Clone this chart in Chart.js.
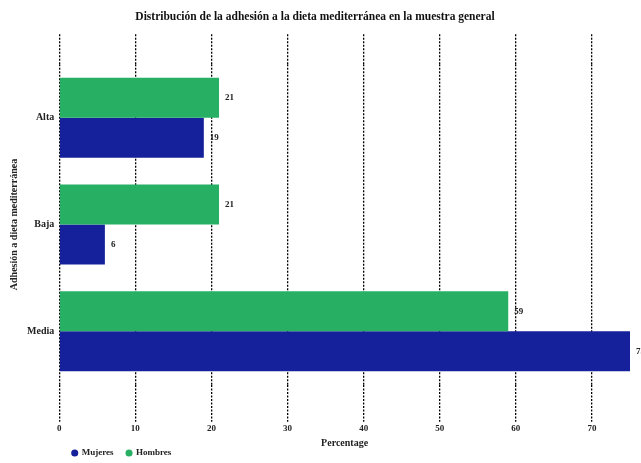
<!DOCTYPE html>
<html>
<head>
<meta charset="utf-8">
<script src="https://cdn.jsdelivr.net/npm/chart.js@4"></script>
<style>
  html, body { margin: 0; padding: 0; background: #fff; }
  #wrap { width: 641px; height: 463px; }
</style>
</head>
<body>
<div id="wrap"><canvas id="chartBar"></canvas></div>
<script>
const categories = ["Alta", "Baja", "Media"];
const mujeres = [19, 6, 75];
const hombres = [21, 21, 59];
const xTicks = [0, 10, 20, 30, 40, 50, 60, 70];

const serif = "'Liberation Serif', 'DejaVu Serif', serif";

// value labels at the end of each bar
const barLabels = {
    id: "barLabels",
    afterDatasetsDraw(chart) {
        const c = chart.ctx;
        c.save();
        c.font = "bold 9px " + serif;
        c.fillStyle = "#222";
        c.textBaseline = "middle";
        chart.data.datasets.forEach((ds, i) => {
            chart.getDatasetMeta(i).data.forEach((bar, j) => {
                c.fillText(ds.data[j], bar.x + 6, bar.y);
            });
        });
        c.restore();
    },
};

const dotted = {
    color: "#000",
    lineWidth: 1.3,
    tickColor: "#000",
    tickWidth: 1.3,
    tickBorderDash: [2, 1.5],
};

new Chart(document.getElementById("chartBar"), {
    type: "bar",
    data: {
        labels: categories,
        datasets: [
            { label: "Hombres", data: hombres, backgroundColor: "#27b064" },
            { label: "Mujeres", data: mujeres, backgroundColor: "#14219a" },
        ],
    },
    plugins: [barLabels],
    options: {
        indexAxis: "y",
        responsive: true,
        maintainAspectRatio: false,
        animation: false,
        categoryPercentage: 0.75,
        barPercentage: 1,
        layout: { padding: { right: 11, bottom: -4.5 } },
        plugins: {
            title: {
                display: true,
                text: "Distribución de la adhesión a la dieta mediterránea en la muestra general",
                color: "#111",
                font: { size: 11.5, weight: "bold", family: serif },
                padding: { top: 10, bottom: 10.5 },
            },
            legend: {
                position: "bottom",
                align: "start",
                fullSize: false,
                reverse: true,
                labels: {
                    usePointStyle: true,
                    pointStyle: "circle",
                    boxWidth: 5,
                    boxHeight: 5,
                    padding: 13,
                    color: "#222",
                    font: { size: 9, weight: "bold", family: serif },
                },
            },
            tooltip: { enabled: false },
        },
        scales: {
            x: {
                min: 0,
                max: 75,
                afterBuildTicks: (s) => {
                    s.ticks = xTicks.map((v) => ({ value: v }));
                },
                border: { display: false, dash: [2, 1.5] },
                grid: Object.assign({ tickLength: 37 }, dotted),
                ticks: {
                    color: "#222",
                    padding: 2,
                    font: { size: 9, weight: "bold", family: serif },
                },
                title: {
                    display: true,
                    text: "Percentage",
                    color: "#222",
                    padding: { top: 1, bottom: -14 },
                    font: { size: 10, weight: "bold", family: serif },
                },
            },
            x2: {
                position: "top",
                min: 0,
                max: 75,
                afterBuildTicks: (s) => {
                    s.ticks = xTicks.map((v) => ({ value: v }));
                },
                border: { display: false, dash: [2, 1.5] },
                grid: Object.assign({ tickLength: 30, drawOnChartArea: false }, dotted),
                ticks: { display: false },
            },
            y: {
                border: { display: false },
                grid: { display: false, drawTicks: false },
                ticks: {
                    color: "#222",
                    padding: 5,
                    font: { size: 10, weight: "bold", family: serif },
                },
                title: {
                    display: true,
                    text: "Adhesión a dieta mediterránea",
                    color: "#222",
                    padding: { top: 8, bottom: 2 },
                    font: { size: 10, weight: "bold", family: serif },
                },
            },
        },
    },
});
</script>
</body>
</html>
